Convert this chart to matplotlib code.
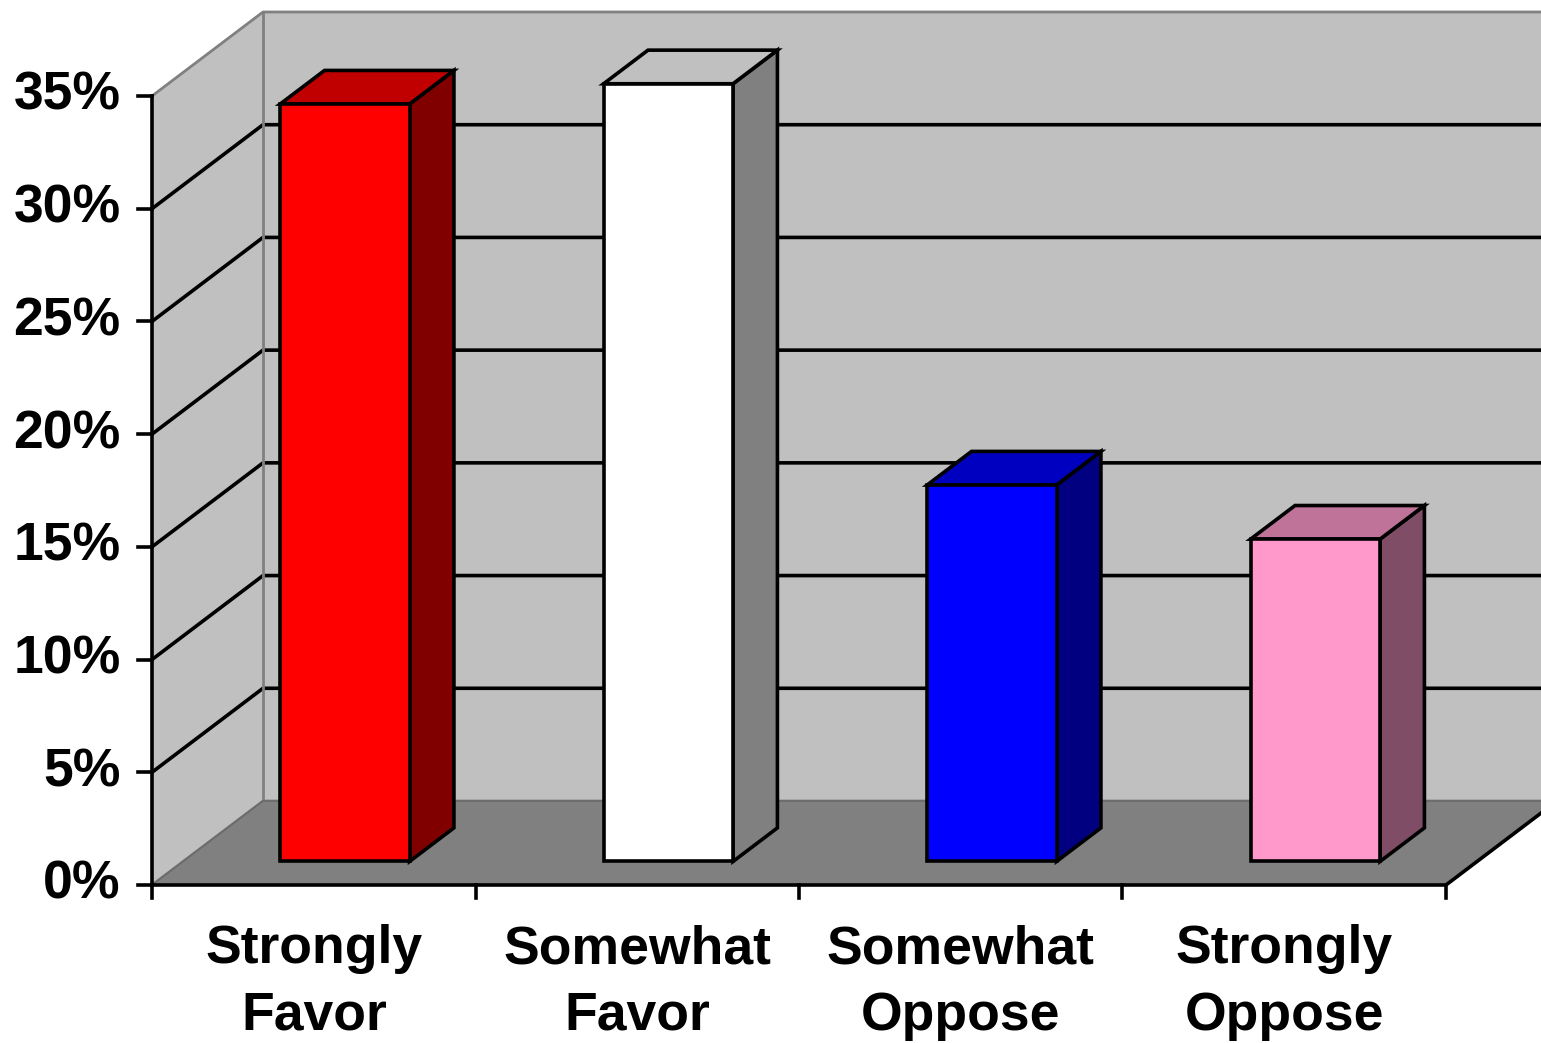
import matplotlib
matplotlib.use('Agg')
import matplotlib.pyplot as plt
from matplotlib.patches import Polygon, Rectangle

plt.rcParams['font.family'] = ['Liberation Sans', 'DejaVu Sans']

categories = ['Strongly\nFavor', 'Somewhat\nFavor', 'Somewhat\nOppose', 'Strongly\nOppose']
values = [33.6, 34.5, 16.7, 14.3]
y_ticks = [0, 5, 10, 15, 20, 25, 30, 35]
y_labels = ['0%', '5%', '10%', '15%', '20%', '25%', '30%', '35%']

front_colors = ['#FF0000', '#FFFFFF', '#0000FF', '#FF99CC']
top_colors = ['#C00000', '#C0C0C0', '#0000C0', '#C07399']
side_colors = ['#800000', '#808080', '#000080', '#804D66']

# oblique projection: one unit of depth shifts right / up by this much
DX, DY = 0.3431, 3.726
YMAX = 35
n = len(categories)

def P(x, v, d=0.0):
    return (x + d * DX, v + d * DY)

fig = plt.figure(figsize=(15.41, 10.43), dpi=100)
fig.patch.set_facecolor('white')
ax = fig.add_axes([0, 0, 1, 1])
ax.set_xlim(-0.4699, 4.2937)
ax.set_ylim(-7.009, 39.258)
ax.axis('off')

wall = '#C0C0C0'
edge = '#808080'
lw = 2.6

# back wall
ax.add_patch(Polygon([P(0, 0, 1), P(n + 1, 0, 1), P(n + 1, YMAX, 1), P(0, YMAX, 1)],
                     closed=True, facecolor=wall, edgecolor='none', zorder=1))
# side wall
ax.add_patch(Polygon([P(0, 0, 0), P(0, 0, 1), P(0, YMAX, 1), P(0, YMAX, 0)],
                     closed=True, facecolor=wall, edgecolor='none', zorder=1))

# gridlines on both walls
for v in y_ticks:
    c = 'black' if 0 < v < YMAX else edge
    w = lw if 0 < v < YMAX else 2.0
    xs, ys = zip(P(0, v, 0), P(0, v, 1), P(n + 1, v, 1))
    ax.plot(xs, ys, color=c, lw=w, zorder=2, solid_capstyle='butt')
xs, ys = zip(P(0, 0, 1), P(0, YMAX, 1))
ax.plot(xs, ys, color=edge, lw=2.0, zorder=2)

# floor
ax.add_patch(Polygon([P(0, 0, 0), P(n, 0, 0), P(n, 0, 1), P(0, 0, 1)],
                     closed=True, facecolor='#808080', edgecolor='none', zorder=3))
xs, ys = zip(P(0, 0, 1), P(n + 1, 0, 1))
ax.plot(xs, ys, color='#6a6a6a', lw=1.2, zorder=3)
xs, ys = zip(P(0, 0, 0), P(0, 0, 1))
ax.plot(xs, ys, color='#6a6a6a', lw=1.2, zorder=3)
xs, ys = zip(P(0, 0, 0), P(n, 0, 0), P(n, 0, 1))
ax.plot(xs, ys, color='black', lw=lw, zorder=4)

# value axis
ax.plot([0, 0], [0, YMAX], color='black', lw=lw, zorder=4)
for v, lab in zip(y_ticks, y_labels):
    ax.plot([-0.0433, 0], [v, v], color='black', lw=lw, zorder=4, clip_on=False)
    ax.text(-0.097, v, lab, ha='right', va='center', fontsize=38.5,
            fontweight='bold', color='black')

# category axis ticks and labels
for i in range(n + 1):
    ax.plot([i, i], [0, -0.58], color='black', lw=lw, zorder=4)
for i, lab in enumerate(categories):
    ax.text(i + 0.5, -1.75, lab, ha='center', va='top', fontsize=38.5,
            fontweight='bold', color='black', linespacing=1.42)

# bars
bw, d0, bd = 0.40, 0.28, 0.40
for i, v in enumerate(values):
    x0 = i + 0.5 - bw / 2
    x1 = x0 + bw
    side = [P(x1, 0, d0), P(x1, 0, d0 + bd), P(x1, v, d0 + bd), P(x1, v, d0)]
    top = [P(x0, v, d0), P(x1, v, d0), P(x1, v, d0 + bd), P(x0, v, d0 + bd)]
    ax.add_patch(Polygon(side, closed=True, facecolor=side_colors[i],
                         edgecolor='black', lw=lw, joinstyle='miter', zorder=5))
    ax.add_patch(Polygon(top, closed=True, facecolor=top_colors[i],
                         edgecolor='black', lw=lw, joinstyle='miter', zorder=5))
    fx, fy = P(x0, 0, d0)
    ax.add_patch(Rectangle((fx, fy), bw, v, facecolor=front_colors[i],
                           edgecolor='black', lw=lw, joinstyle='miter', zorder=6))

fig.savefig('out.png', dpi=100, facecolor='white')
plt.close(fig)
